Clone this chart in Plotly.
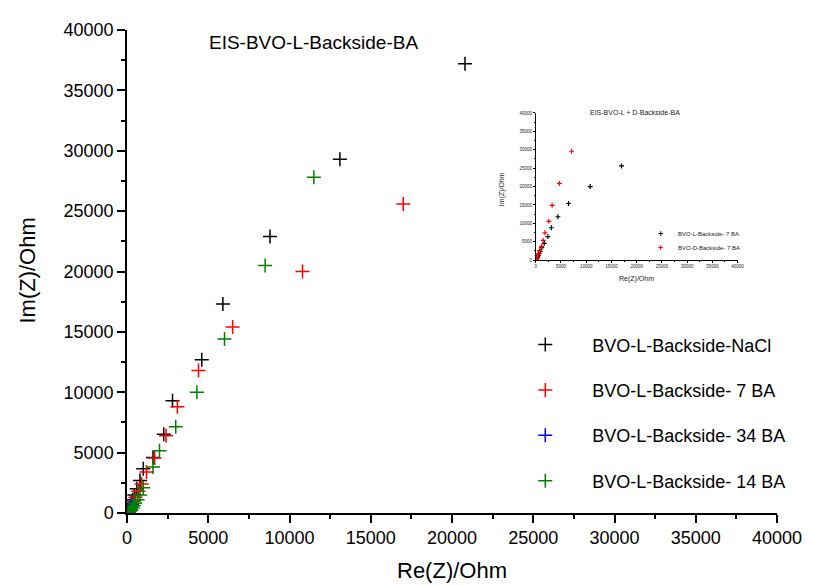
import plotly.graph_objects as go

# ---------------- data ----------------
nacl_re = [20800, 13100, 8800, 5900, 4600, 2800, 2260, 1600, 1000, 800, 600, 450, 350, 270, 200, 150, 110, 80, 60]
nacl_im = [37200, 29300, 22900, 17300, 12700, 9300, 6530, 4600, 3660, 2700, 2000, 1500, 1100, 800, 600, 420, 300, 200, 130]

ba7_re = [17000, 10800, 6500, 4400, 3100, 2400, 1700, 1200, 900, 700, 520, 400, 300, 220, 160, 120, 90]
ba7_im = [25600, 20000, 15400, 11800, 8800, 6400, 4550, 3400, 2400, 1800, 1300, 950, 700, 500, 350, 250, 170]

ba34_re = [300, 220, 160, 110, 80, 60]
ba34_im = [700, 500, 330, 200, 120, 60]

ba14_re = [11500, 8500, 6000, 4300, 3000, 2000, 1600, 1000, 800, 650, 500, 420, 350, 280, 220, 170, 130, 100]
ba14_im = [27800, 20500, 14400, 10000, 7150, 5150, 3800, 2100, 1500, 1100, 800, 600, 430, 300, 200, 130, 80, 40]

# inset: L-backside 7 BA (same as main 7 BA) and D-backside 7 BA
d7_re = [7100, 4700, 3250, 2600, 1820, 1500, 1170, 720, 520, 330, 200, 120]
d7_im = [29600, 20850, 14900, 10550, 7430, 5370, 3760, 2600, 1700, 800, 400, 150]

tick_vals = [0, 5000, 10000, 15000, 20000, 25000, 30000, 35000, 40000]
tick_text = ["0", "5000", "10000", "15000", "20000", "25000", "30000", "35000", "40000"]

names = ["BVO-L-Backside-NaCl", "BVO-L-Backside- 7 BA", "BVO-L-Backside- 34 BA", "BVO-L-Backside- 14 BA"]
colors = ["#000000", "#ff0000", "#0000ff", "#008000"]
inset_names = ["BVO-L-Backside- 7 BA", "BVO-D-Backside- 7 BA"]
inset_colors = ["#000000", "#ff0000"]

FONT = "Arial, Liberation Sans, sans-serif"

fig = go.Figure()

series = [(nacl_re, nacl_im), (ba7_re, ba7_im), (ba34_re, ba34_im), (ba14_re, ba14_im)]
for i, ((xs, ys), nm, col) in enumerate(zip(series, names, colors)):
    fig.add_trace(go.Scatter(
        x=xs, y=ys, mode="markers", name=nm, legendgroup=f"g{i}",
        marker=dict(symbol="cross-thin", size=10, color=col,
                    line=dict(width=1.5, color=col)),
        xaxis="x", yaxis="y", showlegend=True))

inset_series = [(ba7_re, ba7_im), (d7_re, d7_im)]
for i, ((xs, ys), nm, col) in enumerate(zip(inset_series, inset_names, inset_colors)):
    fig.add_trace(go.Scatter(
        x=xs, y=ys, mode="markers", name=nm,
        marker=dict(symbol="cross-thin", size=3.5, color=col,
                    line=dict(width=1.2, color=col)),
        xaxis="x2", yaxis="y2", showlegend=False))

main_axis = dict(
    range=[0, 40000], tickvals=tick_vals, ticktext=tick_text,
    showgrid=False, zeroline=False, showline=True, linecolor="black", linewidth=1.5,
    ticks="outside", ticklen=8, tickwidth=1.5, tickcolor="black",
    minor=dict(ticks="outside", ticklen=4, tickwidth=1.5, tickcolor="black", dtick=2500, tick0=0),
    tickfont=dict(family=FONT, size=18, color="black"),
)
inset_axis = dict(
    range=[0, 40000], tickvals=tick_vals, ticktext=tick_text,
    showgrid=False, zeroline=False, showline=True, linecolor="black", linewidth=0.8,
    ticks="outside", ticklen=2, tickwidth=0.7, tickcolor="black",
    minor=dict(ticks="outside", ticklen=1, tickwidth=0.7, tickcolor="black", dtick=2500, tick0=0),
    tickfont=dict(family=FONT, size=4.5, color="#222"),
)

# page has an 8px body margin: figure is 806x577 so that it fits the 814x585 window
OFF = 8
W, H = 814 - OFF, 585 - OFF
PL, PT, PR, PB = 127, 24, 787, 513          # plot area in page pixels
L, T = PL - OFF, PT - OFF
R, B = W - (PR - OFF), H - (PB - OFF)
pw, ph = PR - PL, PB - PT

def px(x):
    return (x - PL) / pw

def py(y):
    return (PB - y) / ph

annots = [
    dict(text="EIS-BVO-L-Backside-BA", x=px(316), y=py(37), font=dict(family=FONT, size=19, color="black")),
    dict(text="Re(Z)/Ohm", x=px(457), y=py(571), font=dict(family=FONT, size=22, color="black")),
    dict(text="Im(Z)/Ohm", x=px(25), y=py(268), textangle=-90, font=dict(family=FONT, size=22, color="black")),
    dict(text="EIS-BVO-L + D-Backside-BA", x=px(643), y=py(108), font=dict(family=FONT, size=7, color="#222")),
    dict(text="Re(Z)/Ohm", x=px(644), y=py(276), font=dict(family=FONT, size=7, color="#222")),
    dict(text="Im(Z)/Ohm", x=px(508), y=py(185), textangle=-90, font=dict(family=FONT, size=7, color="#222")),
]
for a in annots:
    a.update(xanchor="center", yanchor="middle")
# inset legend (symbol + label)
for k, (nm, col) in enumerate(zip(inset_names, inset_colors)):
    yy = 231 + 14 * k
    annots.append(dict(text="<b>+</b>", x=px(669), y=py(yy), xanchor="center", yanchor="middle",
                       font=dict(family=FONT, size=9, color=col)))
    annots.append(dict(text=nm, x=px(684), y=py(yy), xanchor="left", yanchor="middle",
                       font=dict(family=FONT, size=6, color="#222")))
for a in annots:
    a.update(xref="paper", yref="paper", showarrow=False)

fig.update_layout(
    width=W, height=H,
    margin=dict(l=L, r=R, t=T, b=B, pad=0),
    paper_bgcolor="white", plot_bgcolor="white",
    font=dict(family=FONT, color="black"),
    xaxis=dict(**main_axis, domain=[0, 1], anchor="y"),
    yaxis=dict(**main_axis, domain=[0, 1], anchor="x"),
    xaxis2=dict(**inset_axis, domain=[px(542), px(747)], anchor="y2"),
    yaxis2=dict(**inset_axis, domain=[py(257), py(108)], anchor="x2"),
    legend=dict(x=px(504), y=py(324), xanchor="left", yanchor="top",
                font=dict(family=FONT, size=18, color="black"),
                bgcolor="rgba(0,0,0,0)", itemwidth=84, tracegroupgap=19,
                itemclick=False),
    showlegend=True,
    annotations=annots,
)

fig.write_html("out.html")
